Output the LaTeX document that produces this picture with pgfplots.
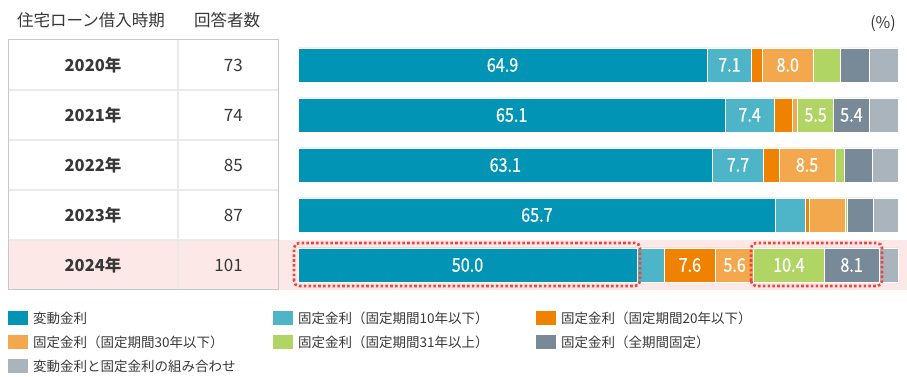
\documentclass[border=0pt]{standalone}
\usepackage{pgfplots}
\pgfplotsset{compat=1.18}
\usepackage{pgfplotstable}
\usepackage{fontspec}
\setmainfont{Noto Sans CJK JP}
\newfontfamily\condfont[FakeStretch=0.85,FakeBold=0.6]{Noto Sans CJK JP}
\definecolor{c1}{HTML}{0294B4}
\definecolor{c2}{HTML}{4EB4C8}
\definecolor{c3}{HTML}{EF8200}
\definecolor{c4}{HTML}{F3A84E}
\definecolor{c5}{HTML}{B1D564}
\definecolor{c6}{HTML}{788A98}
\definecolor{c7}{HTML}{A9B4BC}
\definecolor{txt}{HTML}{383838}
\definecolor{hl}{HTML}{FDE8E8}
\definecolor{redd}{HTML}{EE4440}
\definecolor{sep}{HTML}{EAEAEA}
\definecolor{brd}{HTML}{C8C8C8}

\pgfplotstableread{
y a b c d e f g
0 64.9 7.1 1.7 8.0 4.4 4.5 4.6
1 65.1 7.4 2.8 0.8 5.5 5.4 4.4
2 63.1 7.7 2.4 8.5 1.4 4.3 3.9
3 65.7 4.1 0.5 4.9 0.3 3.6 3.4
4 50.0 4.0 7.6 5.6 10.4 8.1 2.8
}\data
\newcommand\tot{(\thisrow{a}+\thisrow{b}+\thisrow{c}+\thisrow{d}+\thisrow{e}+\thisrow{f}+\thisrow{g})}
\pgfplotsset{
  frame/.style={at={(298pt,87pt)}, anchor=south west,
    scale only axis, width=600pt, height=250pt,
    xmin=0, xmax=100, ymin=-0.5, ymax=4.5, y dir=reverse,
    axis lines=none, ticks=none, clip=false},
  seg/.style={fill=#1, draw=white, line width=0.8pt},
  lab/.style={draw=none, mark=none, point meta=explicit symbolic,
    nodes near coords={\ifdim\pgfplotspointmeta pt<5pt\else\pgfplotspointmeta\fi},
    every node near coord/.append style={anchor=center, text=white, inner sep=0pt, font=\condfont\fontsize{19}{19}\selectfont}},
}
\begin{document}
\begin{tikzpicture}[x=1pt,y=1pt, font=\fontsize{16.5}{18}\selectfont, text=txt]
\useasboundingbox (0,0) rectangle (907,377);
\fill[hl] (8,87) rectangle (907,137);
% table
\foreach \yy in {137,187,237,287} {\draw[sep, line width=1.5pt] (8,\yy) -- (278,\yy);}
\draw[sep, line width=1.5pt] (178,87) -- (178,337);
\draw[brd, line width=1pt] (8,87) rectangle (278,337);
\node[anchor=west, inner sep=0pt] at (17,357) {住宅ローン借入時期};
\node[anchor=west, inner sep=0pt] at (194,357) {回答者数};
\node[anchor=east, inner sep=0pt, font=\fontsize{16}{18}\selectfont] at (896,353) {(\%)};
\foreach \yr/\n/\yy in {2020/73/312, 2021/74/262, 2022/85/212, 2023/87/162, 2024/101/112} {
  \node[inner sep=0pt, font=\bfseries\fontsize{16.5}{18}\selectfont] at (93,\yy) {\yr 年};
  \node[anchor=east, inner sep=0pt, font=\fontsize{17}{18}\selectfont] at (243,\yy) {\n};
}
\begin{axis}[frame, xbar stacked, bar width=34pt]
\addplot[seg=c1] table[x expr=\thisrow{a}*100/\tot, y=y]{\data};
\addplot[seg=c2] table[x expr=\thisrow{b}*100/\tot, y=y]{\data};
\addplot[seg=c3] table[x expr=\thisrow{c}*100/\tot, y=y]{\data};
\addplot[seg=c4] table[x expr=\thisrow{d}*100/\tot, y=y]{\data};
\addplot[seg=c5] table[x expr=\thisrow{e}*100/\tot, y=y]{\data};
\addplot[seg=c6] table[x expr=\thisrow{f}*100/\tot, y=y]{\data};
\addplot[seg=c7] table[x expr=\thisrow{g}*100/\tot, y=y]{\data};
\end{axis}
\begin{axis}[frame]
\addplot[lab] table[x expr=(\thisrow{a}/2)*100/\tot, y=y, meta=a]{\data};
\addplot[lab] table[x expr=(\thisrow{a}+\thisrow{b}/2)*100/\tot, y=y, meta=b]{\data};
\addplot[lab] table[x expr=(\thisrow{a}+\thisrow{b}+\thisrow{c}/2)*100/\tot, y=y, meta=c]{\data};
\addplot[lab] table[x expr=(\thisrow{a}+\thisrow{b}+\thisrow{c}+\thisrow{d}/2)*100/\tot, y=y, meta=d]{\data};
\addplot[lab] table[x expr=(\thisrow{a}+\thisrow{b}+\thisrow{c}+\thisrow{d}+\thisrow{e}/2)*100/\tot, y=y, meta=e]{\data};
\addplot[lab] table[x expr=(\thisrow{a}+\thisrow{b}+\thisrow{c}+\thisrow{d}+\thisrow{e}+\thisrow{f}/2)*100/\tot, y=y, meta=f]{\data};
\end{axis}
\draw[redd, line width=2.6pt, dash pattern=on 2.6pt off 2.2pt, rounded corners=5pt] (294,91) rectangle (640,134);
\draw[redd, line width=2.6pt, dash pattern=on 2.6pt off 2.2pt, rounded corners=5pt] (751,91) rectangle (882,134);
% legend
\begin{scope}[font=\fontsize{13.5}{15}\selectfont]
\foreach \c/\xx/\yy/\t in {c1/8/59/変動金利, c2/273/59/固定金利（固定期間10年以下）, c3/536/59/固定金利（固定期間20年以下）,
  c4/8/35/固定金利（固定期間30年以下）, c5/273/35/固定金利（固定期間31年以上）, c6/536/35/固定金利（全期間固定）,
  c7/8/11/変動金利と固定金利の組み合わせ} {
  \fill[\c] (\xx,\yy-7) rectangle (\xx+20,\yy+7);
  \node[anchor=west, inner sep=0pt] at (\xx+25,\yy) {\t};
}
\end{scope}
\end{tikzpicture}
\end{document}
